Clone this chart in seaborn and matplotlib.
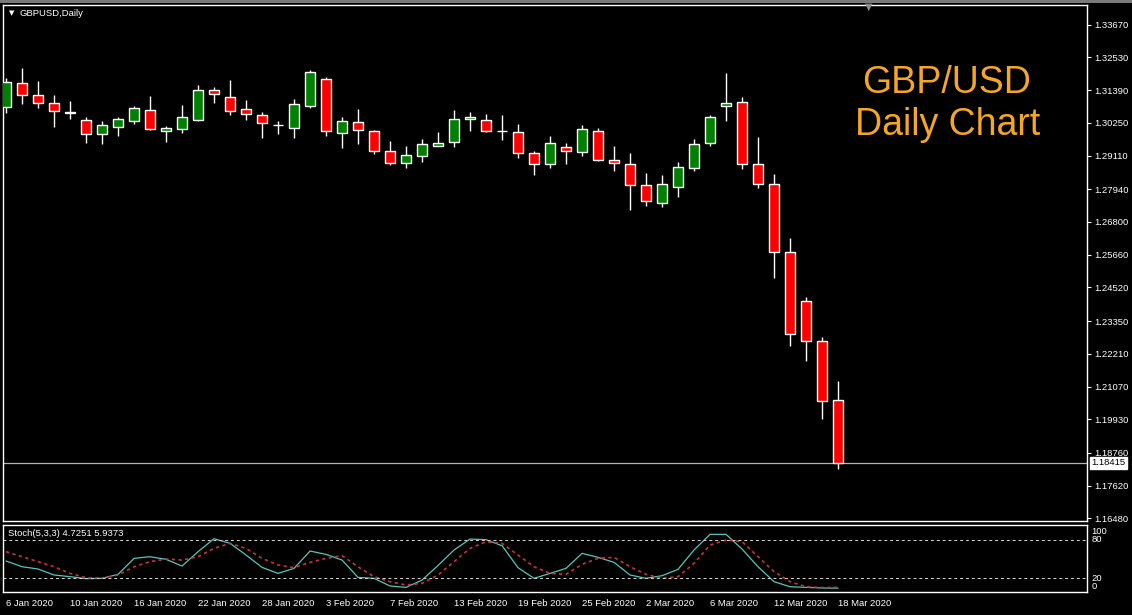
import numpy as np
import pandas as pd
import matplotlib
matplotlib.use("Agg")
import matplotlib.pyplot as plt
import matplotlib.transforms as mtransforms
import seaborn as sns

# --- data (GBPUSD daily, 6 Jan - 18 Mar 2020) ---
opens = [1.30799, 1.31624, 1.31217, 1.30928, 1.30608, 1.30336, 1.29849, 1.30113, 1.30322, 1.30684,
         1.29953, 1.30044, 1.30357, 1.31380, 1.31137, 1.30719, 1.30510, 1.30166, 1.30079, 1.30824,
         1.31763, 1.29884, 1.30277, 1.29963, 1.29268, 1.28840, 1.29083, 1.29452, 1.29571, 1.30371,
         1.30336, 1.29981, 1.29919, 1.29188, 1.28805, 1.29397, 1.29223, 1.29953, 1.28944, 1.28805,
         1.28075, 1.27448, 1.28005, 1.28666, 1.29536, 1.30824, 1.30963, 1.28805, 1.28109, 1.25743,
         1.24048, 1.22645, 1.20593]
highs = [1.31808, 1.32146, 1.31714, 1.31227, 1.30998, 1.30451, 1.30312, 1.30441, 1.30845, 1.31192,
         1.30148, 1.30858, 1.31554, 1.31505, 1.31739, 1.31053, 1.30625, 1.30301, 1.31088, 1.32087,
         1.31853, 1.30461, 1.30719, 1.29999, 1.29605, 1.29442, 1.29696, 1.29919, 1.30705, 1.30635,
         1.30545, 1.30510, 1.30218, 1.29278, 1.29790, 1.29557, 1.30173, 1.30068, 1.29452, 1.29209,
         1.28502, 1.28433, 1.28875, 1.29696, 1.30531, 1.31993, 1.31158, 1.29765, 1.28467, 1.26251,
         1.24198, 1.22806, 1.21274]
lows = [1.30590, 1.30914, 1.30765, 1.30093, 1.30382, 1.29547, 1.29522, 1.29801, 1.30218, 1.29999,
        1.29571, 1.29884, 1.30312, 1.30949, 1.30521, 1.30347, 1.29710, 1.29849, 1.29720, 1.30775,
        1.29801, 1.29372, 1.29522, 1.29153, 1.28791, 1.28687, 1.28895, 1.29425, 1.29397, 1.29964,
        1.29929, 1.29651, 1.29024, 1.28422, 1.28687, 1.28826, 1.29105, 1.28930, 1.28583, 1.27215,
        1.27364, 1.27329, 1.27667, 1.28572, 1.29442, 1.30312, 1.28641, 1.27991, 1.24838, 1.22482,
        1.21960, 1.19941, 1.18191]
closes = [1.31669, 1.31207, 1.30928, 1.30650, 1.30597, 1.29849, 1.30162, 1.30371, 1.30754, 1.30044,
          1.30058, 1.30441, 1.31380, 1.31241, 1.30670, 1.30545, 1.30253, 1.30156, 1.30893, 1.32007,
          1.29953, 1.30301, 1.29988, 1.29257, 1.28840, 1.29118, 1.29501, 1.29547, 1.30371, 1.30441,
          1.29974, 1.29971, 1.29188, 1.28805, 1.29536, 1.29257, 1.30023, 1.28944, 1.28840, 1.28095,
          1.27517, 1.28109, 1.28701, 1.29501, 1.30441, 1.30928, 1.28805, 1.28109, 1.25743, 1.22889,
          1.22645, 1.20558, 1.18415]

# Stochastic(5,3,3): main (%K) and signal (%D)
stoch_k = [46.9, 38.1, 34.5, 25.2, 22.6, 19.5, 20.0, 26.2, 51.0, 53.6,
           49.5, 39.1, 61.4, 81.5, 74.3, 56.2, 37.0, 27.7, 35.5, 62.4,
           57.2, 48.4, 21.5, 20.0, 8.1, 6.0, 17.4, 40.0, 64.0, 81.0,
           80.0, 70.7, 36.5, 20.0, 27.7, 35.5, 58.8, 52.6, 44.8, 25.2,
           20.0, 24.1, 34.0, 64.0, 88.3, 88.3, 65.5, 38.0, 14.8, 7.0,
           6.0, 5.0, 4.7]
stoch_d = [61.4, 53.6, 45.9, 38.0, 27.7, 21.0, 20.0, 25.2, 38.0, 45.9,
           50.0, 48.4, 53.6, 66.5, 74.3, 66.5, 51.0, 40.7, 36.5, 44.8,
           51.0, 55.2, 38.0, 22.6, 14.8, 9.6, 12.2, 25.2, 45.9, 66.5,
           76.9, 74.3, 56.2, 38.0, 27.7, 26.2, 41.7, 51.0, 52.6, 38.0,
           26.2, 20.0, 22.6, 43.3, 71.7, 79.5, 77.0, 53.6, 30.3, 14.8,
           7.0, 5.7, 5.9]

price_ticks = [1.33670, 1.32530, 1.31390, 1.30250, 1.29110, 1.27940, 1.26800, 1.25660,
               1.24520, 1.23350, 1.22210, 1.21070, 1.19930, 1.18760, 1.17620, 1.16480]
date_labels = ['6 Jan 2020', '10 Jan 2020', '16 Jan 2020', '22 Jan 2020', '28 Jan 2020',
               '3 Feb 2020', '7 Feb 2020', '13 Feb 2020', '19 Feb 2020', '25 Feb 2020',
               '2 Mar 2020', '6 Mar 2020', '12 Mar 2020', '18 Mar 2020']
stoch_levels = [100, 80, 20, 0]
last_price = 1.18415

df = pd.DataFrame({'open': opens, 'high': highs, 'low': lows, 'close': closes,
                   'k': stoch_k, 'd': stoch_d})
df['bar'] = np.arange(len(df))

# --- style ---
sns.set_theme(style="dark", rc={
    'axes.facecolor': 'black', 'figure.facecolor': 'black',
    'axes.edgecolor': 'white', 'text.color': 'white',
    'xtick.color': 'white', 'ytick.color': 'white',
})
plt.rcParams['font.family'] = ['Liberation Sans', 'DejaVu Sans']

W, H = 1132, 615
fig = plt.figure(figsize=(W / 100, H / 100), dpi=100, facecolor='black')
ax = fig.add_axes([3 / W, 1 - 521 / H, 1084 / W, 516 / H])
ax2 = fig.add_axes([3 / W, 1 - 592 / H, 1084 / W, 67 / H])

for a in (ax, ax2):
    a.set_facecolor('black')
    for s in a.spines.values():
        s.set_color('white')
        s.set_linewidth(1)
    a.set_xlim(-0.19, 67.56)
    a.grid(False)

# --- candles ---
up = df['close'] >= df['open']
body_low = df[['open', 'close']].min(axis=1)
body_h = (df['close'] - df['open']).abs().clip(lower=0.00008)
colors = np.where(up, '#008000', '#ff0000')
ax.vlines(df['bar'], df['low'], df['high'], colors='white', lw=1, zorder=2)
ax.bar(df['bar'], body_h, bottom=body_low, width=0.62, color=colors,
       edgecolor='white', linewidth=1, zorder=3)

ax.set_ylim(1.16392, 1.34349)
ax.yaxis.tick_right()
ax.set_yticks(price_ticks, [f'{p:.5f}' for p in price_ticks])
ax.tick_params(axis='y', length=3, width=0.8, pad=2, labelsize=6.8, colors='white')
ax.set_xticks([])
ax.set_xlabel('')
ax.set_ylabel('')

# current price line + label box
ax.axhline(last_price, color='#b4b4b4', lw=0.9, zorder=1)
trans = mtransforms.blended_transform_factory(ax.transAxes, ax.transData)
ax.text(1.004, last_price, f'{last_price:.5f}', transform=trans, ha='left', va='center',
        fontsize=6.8, color='black',
        bbox=dict(boxstyle='square,pad=0.12', fc='white', ec='white'))

# --- stochastic panel ---
sns.lineplot(data=df, x='bar', y='k', ax=ax2, color='#55c6bb', lw=0.9)
sns.lineplot(data=df, x='bar', y='d', ax=ax2, color='#c8323c', lw=1.2,
             linestyle=(0, (2, 2)))
for lvl in (80, 20):
    ax2.axhline(lvl, color='#d8d8d8', lw=0.7, ls=(0, (3, 3)))
ax2.set_ylim(-1.2, 102.8)
ax2.set_yticks([])
ax2.set_ylabel('')
ax2.set_xlabel('')
ax2.set_xticks(range(0, len(df), 4), date_labels)
for lab in ax2.get_xticklabels():
    lab.set_horizontalalignment('left')
ax2.tick_params(axis='x', length=3, width=0.8, pad=2, labelsize=6.8, colors='white')

trans2 = mtransforms.blended_transform_factory(ax2.transAxes, ax2.transData)
va_map = {100: 'top', 80: 'center', 20: 'center', 0: 'bottom'}
for lvl in stoch_levels:
    ax2.text(1.004, lvl, str(lvl), transform=trans2, ha='left', va=va_map[lvl],
             fontsize=6.8, color='white')
ax2.text(0.005, 0.88, 'Stoch(5,3,3) 4.7251 5.9373', transform=ax2.transAxes,
         ha='left', va='center', fontsize=6.8, color='white')

# --- labels / decorations ---
fig.text(20 / W, 1 - 13 / H, 'GBPUSD,Daily', ha='left', va='center', fontsize=6.8, color='white')
fig.text(12 / W, 1 - 13 / H, '\u25bc', ha='center', va='center', fontsize=5, color='white',
         family=['DejaVu Sans'])
fig.text(869 / W, 1 - 7 / H, '\u25bc', ha='center', va='center', fontsize=7, color='#8c8c8c',
         family=['DejaVu Sans'])
fig.text(947 / W, 1 - 83 / H, 'GBP/USD', ha='center', va='center', fontsize=27, color='#f4a62a')
fig.text(948 / W, 1 - 125 / H, 'Daily Chart', ha='center', va='center', fontsize=27, color='#f4a62a')
fig.add_artist(plt.Rectangle((0, 1 - 3 / H), 1, 3 / H, transform=fig.transFigure,
                             color='#7a7a7a', lw=0))

fig.savefig('out.png', dpi=100, facecolor='black')
